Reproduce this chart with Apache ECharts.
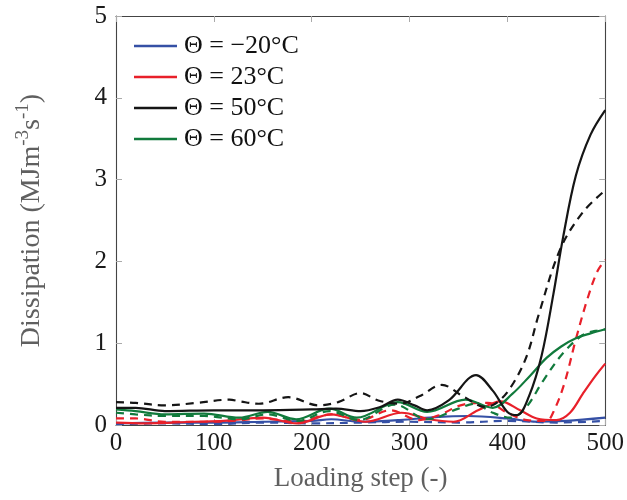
<!DOCTYPE html>
<html>
<head>
<meta charset="utf-8">
<script src="https://cdn.jsdelivr.net/npm/echarts@6/dist/echarts.min.js"></script>
<style>html,body{margin:0;padding:0;background:#fff}#c{width:627px;height:500px}</style>
</head>
<body>
<div id="c"></div>
<script>
// ---- data ----
const xTicks = [0, 100, 200, 300, 400, 500];
const yTicks = [0, 1, 2, 3, 4, 5];
const legendNames = ['Θ = −20°C', 'Θ = 23°C', 'Θ = 50°C', 'Θ = 60°C'];

const blueSolidX = [0, 50, 100, 150, 200, 220, 250, 290, 330, 360, 400, 430, 460, 500];
const blueSolidY = [0.02, 0.03, 0.03, 0.04, 0.05, 0.07, 0.04, 0.06, 0.1, 0.11, 0.08, 0.04, 0.05, 0.09];
const blueDashX = [0, 50, 100, 150, 200, 250, 300, 350, 400, 450, 500];
const blueDashY = [0.01, 0.02, 0.01, 0.03, 0.02, 0.03, 0.04, 0.03, 0.05, 0.03, 0.05];

const redSolidX = [0, 30, 80, 110, 150, 185, 220, 255, 292, 320, 345, 370, 393, 413, 430, 450, 464, 477, 490, 500];
const redSolidY = [0.03, 0.02, 0.04, 0.05, 0.09, 0.02, 0.13, 0.04, 0.15, 0.07, 0.04, 0.18, 0.29, 0.18, 0.08, 0.06, 0.15, 0.38, 0.6, 0.75];
const redDashX = [0, 20, 50, 90, 120, 150, 185, 220, 250, 280, 310, 330, 355, 380, 400, 420, 440, 447, 458, 470, 482, 492, 500];
const redDashY = [0.08, 0.08, 0.04, 0.04, 0.05, 0.08, 0.04, 0.13, 0.06, 0.18, 0.06, 0.12, 0.25, 0.27, 0.15, 0.06, 0.05, 0.16, 0.5, 1.05, 1.55, 1.88, 2.02];

const blackSolidX = [0, 20, 50, 100, 150, 200, 225, 250, 270, 288, 305, 318, 340, 368, 385, 400, 410, 422, 435, 447, 457, 470, 485, 500];
const blackSolidY = [0.21, 0.21, 0.17, 0.18, 0.18, 0.19, 0.2, 0.17, 0.22, 0.31, 0.24, 0.18, 0.3, 0.61, 0.42, 0.16, 0.12, 0.35, 0.85, 1.6, 2.3, 3.05, 3.55, 3.85];
const blackDashX = [0, 20, 50, 82, 116, 126, 146, 176, 207, 227, 250, 268, 290, 310, 333, 356, 378, 392, 406, 420, 432, 454, 477, 500];
const blackDashY = [0.28, 0.27, 0.24, 0.27, 0.31, 0.29, 0.26, 0.34, 0.24, 0.28, 0.39, 0.3, 0.26, 0.35, 0.49, 0.34, 0.22, 0.3, 0.51, 0.85, 1.35, 2.15, 2.6, 2.87];

const greenSolidX = [0, 20, 50, 90, 126, 155, 184, 218, 246, 288, 318, 357, 385, 405, 423, 440, 455, 470, 485, 500];
const greenSolidY = [0.19, 0.17, 0.13, 0.14, 0.09, 0.16, 0.07, 0.2, 0.09, 0.28, 0.16, 0.31, 0.21, 0.38, 0.6, 0.82, 0.96, 1.06, 1.12, 1.17];
const greenDashX = [0, 20, 50, 90, 126, 155, 186, 218, 248, 285, 318, 350, 366, 385, 403, 418, 437, 457, 477, 490, 500];
const greenDashY = [0.15, 0.13, 0.11, 0.11, 0.07, 0.13, 0.05, 0.17, 0.06, 0.25, 0.07, 0.2, 0.26, 0.15, 0.09, 0.2, 0.55, 0.88, 1.1, 1.15, 1.17];

// ---- chart ----
const colors = { blue: '#3550a5', red: '#e8202a', black: '#151515', green: '#117a3c' };
const pairs = (xs, ys) => xs.map((x, i) => [x, ys[i]]);
const FONT = 'Liberation Serif';

function line(name, xs, ys, color, dashed) {
  return {
    name: name, type: 'line', data: pairs(xs, ys), smooth: 0.35, symbol: 'none',
    lineStyle: { color: color, width: 2.2, type: dashed ? [8, 6] : 'solid' },
    itemStyle: { color: color }, emphasis: { disabled: true }, silent: true,
    xAxisIndex: 0, yAxisIndex: 0
  };
}

const series = [
  line(legendNames[0], blueSolidX, blueSolidY, colors.blue, false),
  line('b_d', blueDashX, blueDashY, colors.blue, true),
  line(legendNames[1], redSolidX, redSolidY, colors.red, false),
  line('r_d', redDashX, redDashY, colors.red, true),
  line('g_d', greenDashX, greenDashY, colors.green, true),
  line(legendNames[3], greenSolidX, greenSolidY, colors.green, false),
  line('k_d', blackDashX, blackDashY, colors.black, true),
  line(legendNames[2], blackSolidX, blackSolidY, colors.black, false)
];

const axisLine = { show: true, onZero: false, lineStyle: { color: '#444', width: 1.1 } };
const axisTick = { show: true, inside: true, length: 6, lineStyle: { color: '#aaa', width: 1 } };

const chart = echarts.init(document.getElementById('c'), null, { renderer: 'canvas' });
chart.setOption({
  animation: false,
  backgroundColor: '#fff',
  grid: { left: 116, right: 18, top: 16, bottom: 75, containLabel: false },
  legend: {
    data: legendNames, left: 129, top: 28, orient: 'vertical', itemGap: 5,
    icon: 'rect', itemWidth: 43, itemHeight: 2.5,
    textStyle: { fontFamily: FONT, fontSize: 26, color: '#111', padding: [0, 0, 0, 2] },
    selectedMode: false
  },
  xAxis: [{
    type: 'value', min: xTicks[0], max: xTicks[xTicks.length - 1], interval: 100,
    axisLine: axisLine, axisTick: axisTick, splitLine: { show: false },
    axisLabel: { fontFamily: FONT, fontSize: 25, color: '#1a1a1a', margin: 6 },
    name: 'Loading step (-)', nameLocation: 'middle', nameGap: 40,
    nameTextStyle: { fontFamily: FONT, fontSize: 27, color: '#606060' }
  }, {
    type: 'value', position: 'top', min: 0, max: 500, interval: 100,
    axisLine: axisLine, axisTick: axisTick, axisLabel: { show: false }, splitLine: { show: false }
  }],
  yAxis: [{
    type: 'value', min: yTicks[0], max: yTicks[yTicks.length - 1], interval: 1,
    axisLine: axisLine, axisTick: axisTick, splitLine: { show: false },
    axisLabel: { fontFamily: FONT, fontSize: 25, color: '#1a1a1a', margin: 9 },
    name: '{n|Dissipation (MJm}{s|-3}{n|s}{s|-1}{n|)}', nameLocation: 'middle', nameGap: 70,
    nameTextStyle: {
      fontFamily: FONT, fontSize: 28, color: '#606060',
      rich: {
        n: { fontFamily: FONT, fontSize: 28, color: '#606060', lineHeight: 32, verticalAlign: 'bottom' },
        s: { fontFamily: FONT, fontSize: 19, color: '#606060', lineHeight: 32, verticalAlign: 'top', padding: [0, 0, 10, 0] }
      }
    }
  }, {
    type: 'value', position: 'right', min: 0, max: 5, interval: 1,
    axisLine: axisLine, axisTick: axisTick, axisLabel: { show: false }, splitLine: { show: false }
  }],
  series: series
});
</script>
</body>
</html>
